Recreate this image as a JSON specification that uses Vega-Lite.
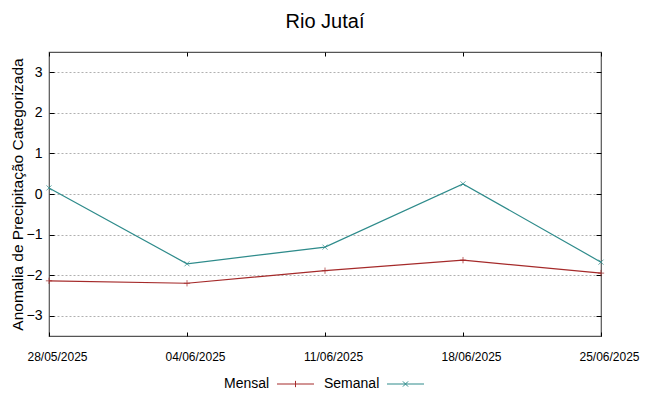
{
  "$schema": "https://vega.github.io/schema/vega-lite/v6.json",
  "width": 552,
  "height": 284,
  "autosize": {"type": "none"},
  "padding": {"left": 49, "top": 52, "right": 48, "bottom": 60},
  "background": "white",
  "config": {
    "font": "Liberation Sans",
    "view": {"stroke": "#555555", "strokeWidth": 1.2},
    "axis": {"labelColor": "#000000", "titleColor": "#000000", "tickColor": "#000000", "domain": false, "labelFont": "Liberation Sans", "titleFont": "Liberation Sans"},
    "legend": {"layout": {"bottom": {"anchor": "middle"}}}
  },
  "title": {"text": "Rio Jutaí", "fontSize": 20, "fontWeight": "normal", "font": "Liberation Sans", "color": "#000000", "offset": 20},
  "data": {
    "values": [
      {"date": "2025-05-28", "serie": "Mensal", "valor": -2.14},
      {"date": "2025-06-04", "serie": "Mensal", "valor": -2.2},
      {"date": "2025-06-11", "serie": "Mensal", "valor": -1.89},
      {"date": "2025-06-18", "serie": "Mensal", "valor": -1.63},
      {"date": "2025-06-25", "serie": "Mensal", "valor": -1.95},
      {"date": "2025-05-28", "serie": "Semanal", "valor": 0.15},
      {"date": "2025-06-04", "serie": "Semanal", "valor": -1.72},
      {"date": "2025-06-11", "serie": "Semanal", "valor": -1.31},
      {"date": "2025-06-18", "serie": "Semanal", "valor": 0.25},
      {"date": "2025-06-25", "serie": "Semanal", "valor": -1.68}
    ]
  },
  "resolve": {"axis": {"x": "independent", "y": "independent"}},
  "layer": [
    {
      "mark": {"type": "line", "strokeWidth": 1.2},
      "encoding": {
        "x": {
          "field": "date", "type": "temporal",
          "scale": {"domain": [{"year": 2025, "month": 5, "date": 28}, {"year": 2025, "month": 6, "date": 25}], "nice": false},
          "axis": {
            "title": null, "format": "%d/%m/%Y", "labelFontSize": 12, "labelPadding": 19, "labelOffset": 8,
            "tickSize": -4, "grid": false, "labelFlush": false, "labelOverlap": false,
            "values": [
              {"year": 2025, "month": 5, "date": 28},
              {"year": 2025, "month": 6, "date": 4},
              {"year": 2025, "month": 6, "date": 11},
              {"year": 2025, "month": 6, "date": 18},
              {"year": 2025, "month": 6, "date": 25}
            ]
          }
        },
        "y": {
          "field": "valor", "type": "quantitative",
          "scale": {"domain": [-3.5, 3.5], "nice": false, "zero": false},
          "axis": {
            "title": "Anomalia de Precipitação Categorizada", "titleFontSize": 15.5, "titleFontWeight": "normal", "titlePadding": 1,
            "values": [-3, -2, -1, 0, 1, 2, 3], "labelFontSize": 14, "labelPadding": 12,
            "tickSize": -5, "grid": true, "gridColor": "#b0b0b0", "gridDash": [2, 2], "gridWidth": 1
          }
        },
        "color": {
          "field": "serie", "type": "nominal",
          "scale": {"domain": ["Mensal", "Semanal"], "range": ["#a52a2a", "#2e8b8b"]},
          "legend": {
            "title": null, "orient": "bottom", "direction": "horizontal", "labelFontSize": 14, "labelFont": "Liberation Sans", "labelColor": "#000000",
            "symbolSize": 100, "symbolStrokeWidth": 1, "columnPadding": 8, "offset": 15, "labelOffset": 0,
            "encode": {
              "symbols": {"update": {
                "shape": {"signal": "datum.value === 'Mensal' ? 'M-3.7,0H3.7M0,-0.63V0.63' : 'M-3.7,0H3.7M-0.52,-0.52L0.52,0.52M-0.52,0.52L0.52,-0.52'"},
                "fill": {"value": "transparent"},
                "x": {"signal": "datum.value === 'Mensal' ? 45 + 8 + 18.5 : 55 + 8 + 18.5"}
              }},
              "labels": {"update": {"x": {"value": 0}, "align": {"value": "left"}}}
            }
          }
        }
      }
    },
    {
      "transform": [{"filter": "datum.serie === 'Mensal'"}],
      "mark": {"type": "point", "filled": false, "size": 40, "strokeWidth": 1, "shape": "M-1,0H1M0,-1V1"},
      "encoding": {
        "x": {
          "field": "date", "type": "temporal",
          "scale": {"domain": [{"year": 2025, "month": 5, "date": 28}, {"year": 2025, "month": 6, "date": 25}], "nice": false},
          "axis": {
            "orient": "top", "title": null, "labels": false, "tickSize": -4, "grid": false,
            "values": [
              {"year": 2025, "month": 5, "date": 28},
              {"year": 2025, "month": 6, "date": 4},
              {"year": 2025, "month": 6, "date": 11},
              {"year": 2025, "month": 6, "date": 18},
              {"year": 2025, "month": 6, "date": 25}
            ]
          }
        },
        "y": {
          "field": "valor", "type": "quantitative",
          "scale": {"domain": [-3.5, 3.5], "nice": false, "zero": false},
          "axis": {"orient": "right", "title": null, "labels": false, "tickSize": -5, "grid": false, "values": [-3, -2, -1, 0, 1, 2, 3]}
        },
        "color": {"field": "serie", "type": "nominal", "legend": null}
      }
    },
    {
      "transform": [{"filter": "datum.serie === 'Semanal'"}],
      "mark": {"type": "point", "filled": false, "size": 40, "strokeWidth": 1, "shape": "M-0.8,-0.8L0.8,0.8M-0.8,0.8L0.8,-0.8"},
      "encoding": {
        "x": {"field": "date", "type": "temporal", "axis": null},
        "y": {"field": "valor", "type": "quantitative", "axis": null},
        "color": {"field": "serie", "type": "nominal", "legend": null}
      }
    }
  ]
}
